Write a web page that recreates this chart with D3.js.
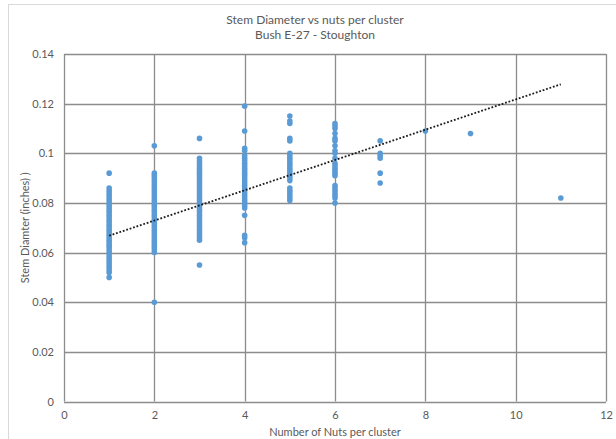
<!DOCTYPE html>
<html>
<head>
<meta charset="utf-8">
<script src="https://cdn.jsdelivr.net/npm/d3@7"></script>
<style>
html,body{margin:0;padding:0;background:#fff;}
svg{display:block;}
text{font-family:Lato,"Open Sans",sans-serif;fill:#595959;}
</style>
</head>
<body>
<svg id="chart" width="616" height="439"></svg>
<script>
// ---- data ----
const titleLines = ["Stem Diameter vs nuts per cluster", "Bush E-27 - Stoughton"];
const xAxisTitle = "Number of Nuts per cluster";
const yAxisTitle = "Stem Diamter (inches) )";
const xTicks = [0, 2, 4, 6, 8, 10, 12];
const yTicks = [0, 0.02, 0.04, 0.06, 0.08, 0.1, 0.12, 0.14];
const yTickLabels = ["0", "0.02", "0.04", "0.06", "0.08", "0.1", "0.12", "0.14"];

const nuts1 = [0.092,0.086,0.085,0.084,0.083,0.082,0.081,0.080,0.079,0.078,0.077,0.076,0.075,0.074,0.073,0.072,0.071,0.070,0.069,0.068,0.067,0.066,0.065,0.064,0.063,0.062,0.061,0.060,0.059,0.058,0.057,0.056,0.055,0.054,0.053,0.052,0.050];
const nuts2 = [0.103,0.092,0.091,0.090,0.089,0.088,0.087,0.086,0.085,0.084,0.083,0.082,0.081,0.080,0.079,0.078,0.077,0.076,0.075,0.074,0.073,0.072,0.071,0.070,0.069,0.068,0.067,0.066,0.065,0.064,0.063,0.062,0.061,0.060,0.040];
const nuts3 = [0.106,0.098,0.097,0.096,0.095,0.094,0.093,0.092,0.091,0.090,0.089,0.088,0.087,0.086,0.085,0.084,0.083,0.082,0.081,0.080,0.079,0.078,0.077,0.076,0.075,0.074,0.073,0.072,0.071,0.070,0.069,0.068,0.067,0.066,0.065,0.055];
const nuts4 = [0.119,0.109,0.102,0.101,0.099,0.098,0.097,0.096,0.095,0.094,0.093,0.092,0.091,0.090,0.089,0.088,0.087,0.086,0.085,0.084,0.083,0.082,0.081,0.080,0.079,0.078,0.075,0.067,0.066,0.064];
const nuts5 = [0.115,0.113,0.112,0.106,0.105,0.100,0.099,0.098,0.097,0.096,0.095,0.094,0.093,0.092,0.091,0.090,0.089,0.086,0.085,0.084,0.083,0.082,0.081];
const nuts6 = [0.112,0.111,0.110,0.108,0.106,0.105,0.103,0.101,0.100,0.098,0.096,0.095,0.094,0.093,0.092,0.091,0.087,0.086,0.085,0.084,0.083,0.082,0.080];
const nuts7 = [0.105,0.100,0.099,0.098,0.092,0.088];
const nuts8 = [0.109];
const nuts9 = [0.108];
const nuts11 = [0.082];
const clusterSizes = [1, 2, 3, 4, 5, 6, 7, 8, 9, 11];
const clusterValues = [nuts1, nuts2, nuts3, nuts4, nuts5, nuts6, nuts7, nuts8, nuts9, nuts11];

// linear trendline
const trendIntercept = 0.0607;
const trendSlope = 0.0061;
const trendRange = [1, 11];

// ---- chart ----
const svg = d3.select("#chart");
const W = 616, H = 439;
const m = {left: 64, right: 10, top: 54, bottom: 37.5};

// outer chart border
svg.append("rect").attr("x", 8.5).attr("y", 4.5).attr("width", W + 10).attr("height", H + 10)
  .attr("fill", "#fff").attr("stroke", "#d9d9d9").attr("stroke-width", 1);

const x = d3.scaleLinear().domain([0, 12]).range([m.left, W - m.right]);
const y = d3.scaleLinear().domain([0, 0.14]).range([H - m.bottom, m.top]);

const gridColor = "#8c8c8c";
// gridlines
svg.append("g").selectAll("line").data(yTicks).join("line")
  .attr("x1", x(0)).attr("x2", x(12))
  .attr("y1", d => Math.round(y(d)) + 0.5).attr("y2", d => Math.round(y(d)) + 0.5)
  .attr("stroke", gridColor).attr("stroke-width", 1.3);
svg.append("g").selectAll("line").data(xTicks).join("line")
  .attr("y1", y(0)).attr("y2", y(0.14))
  .attr("x1", d => Math.round(x(d)) + 0.5).attr("x2", d => Math.round(x(d)) + 0.5)
  .attr("stroke", gridColor).attr("stroke-width", 1.3);

// axes (labels only, via d3 axes)
const xAxis = d3.axisBottom(x).tickValues(xTicks).tickSize(0).tickPadding(10).tickFormat(d3.format("d"));
const gx = svg.append("g").attr("transform", `translate(0,${y(0)})`).call(xAxis);
gx.select(".domain").remove();
gx.selectAll("text").style("font-family", "Lato, 'Open Sans', sans-serif").style("font-size", "11px").attr("fill", "#595959");

const yAxis = d3.axisLeft(y).tickValues(yTicks).tickSize(0).tickPadding(10)
  .tickFormat((d, i) => yTickLabels[i]);
const gy = svg.append("g").attr("transform", `translate(${x(0)},0)`).call(yAxis);
gy.select(".domain").remove();
gy.selectAll("text").style("font-family", "Lato, 'Open Sans', sans-serif").style("font-size", "11px").attr("fill", "#595959");

// points
const points = [];
clusterSizes.forEach((n, i) => clusterValues[i].forEach(v => points.push({n, v})));
svg.append("g").selectAll("circle").data(points).join("circle")
  .attr("cx", d => x(d.n)).attr("cy", d => y(d.v)).attr("r", 2.8)
  .attr("fill", "#5b9bd5");

// trendline
svg.append("line")
  .attr("x1", x(trendRange[0])).attr("y1", y(trendIntercept + trendSlope * trendRange[0]))
  .attr("x2", x(trendRange[1])).attr("y2", y(trendIntercept + trendSlope * trendRange[1]))
  .attr("stroke", "#1a1a1a").attr("stroke-width", 1.8).attr("stroke-dasharray", "1.8,1.8");

// titles
svg.append("text").attr("x", 315).attr("y", 24).attr("text-anchor", "middle")
  .style("font-size", "12px").text(titleLines[0]);
svg.append("text").attr("x", 315).attr("y", 39).attr("text-anchor", "middle")
  .style("font-size", "12px").text(titleLines[1]);

svg.append("text").attr("x", x(6)).attr("y", 436).attr("text-anchor", "middle")
  .style("font-size", "11px").text(xAxisTitle);
svg.append("text").attr("transform", `translate(29,${(y(0) + y(0.14)) / 2}) rotate(-90)`)
  .attr("text-anchor", "middle").style("font-size", "11px").text(yAxisTitle);
</script>
</body>
</html>
